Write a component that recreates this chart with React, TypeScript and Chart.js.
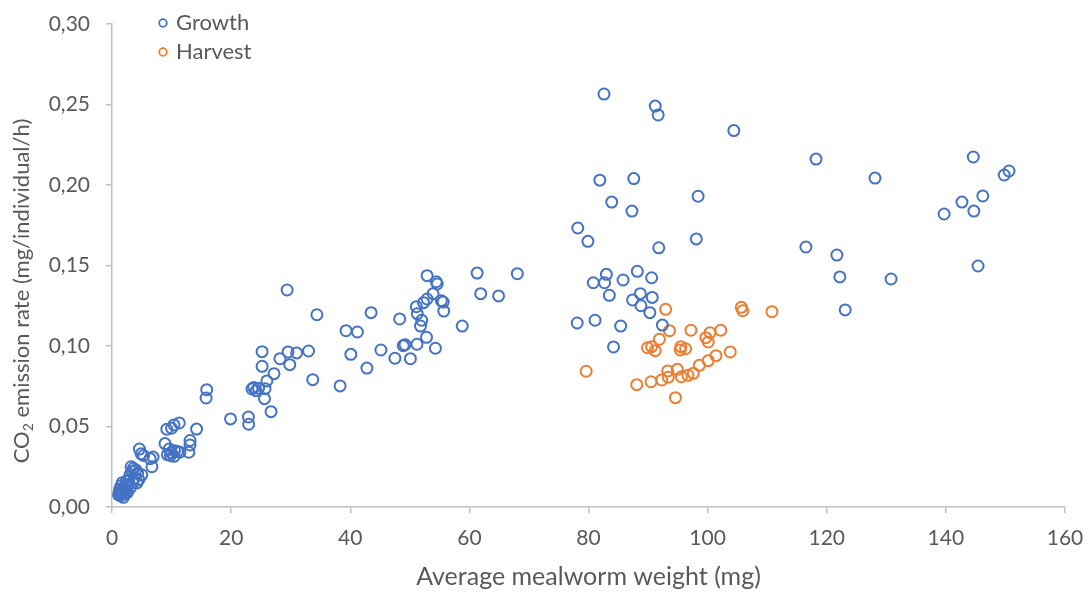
import React, { useEffect, useRef } from 'react';
import { Chart, registerables } from 'chart.js';

Chart.register(...registerables);

const seriesNames = ['Growth', 'Harvest'];
const seriesColors = ['#4472C4', '#ED7D31'];

const xTitle = 'Average mealworm weight (mg)';
const yTitleMain = 'CO';
const yTitleSub = '2';
const yTitleRest = ' emission rate (mg/individual/h)';

const growthX = [
  1.1, 1.2, 1.3, 1.4, 1.5, 1.6, 1.7, 1.8, 1.9, 2.0, 2.2, 2.3, 2.4, 2.5, 2.6, 2.7, 2.8, 3.0, 3.1, 3.2,
  3.4, 3.5, 3.6, 3.8, 4.0, 4.2, 4.3, 4.5, 4.6, 4.9, 5.0, 5.3, 6.4, 6.7, 6.9,
  8.9, 9.2, 9.3, 9.6, 9.8, 10.0, 10.0, 10.4, 10.4, 10.5, 11.0, 11.3, 11.4, 12.9, 13.1, 13.1, 14.2,
  15.8, 15.9, 19.9, 22.9, 22.95, 23.5, 23.8, 24.2, 24.6, 25.2, 25.2, 25.6, 25.7, 26.0, 26.7, 27.2,
  28.2, 29.4, 29.55, 29.85, 31.0, 33.0, 33.7, 34.4, 38.3, 39.3, 40.1, 41.2, 42.8, 43.5, 45.15,
  47.5, 48.3, 48.9, 49.2, 50.1, 51.1, 51.2, 51.25, 51.8, 52.0, 52.3, 52.8, 52.9, 52.9, 53.9, 54.3,
  54.45, 54.6, 55.3, 55.6, 55.7, 58.8, 61.3, 61.9, 64.9, 68.05,
  78.1, 78.2, 79.9, 80.8, 81.1, 81.9, 82.6, 82.7, 83.0, 83.5, 83.9, 84.2, 85.4, 85.8, 87.3, 87.4,
  87.6, 88.2, 88.7, 88.8, 90.3, 90.6, 90.7, 91.2, 91.7, 91.8, 92.4, 98.1, 98.4, 104.4,
  116.5, 118.2, 121.7, 122.2, 123.1, 128.1, 130.8, 139.7, 142.7, 144.6, 144.7, 145.4, 146.2, 149.8, 150.6,
];

const growthY = [
  0.0075, 0.009, 0.011, 0.007, 0.013, 0.008, 0.015, 0.010, 0.006, 0.012, 0.008, 0.0105, 0.016, 0.013, 0.009, 0.014, 0.017, 0.020, 0.012, 0.025,
  0.022, 0.015, 0.024, 0.018, 0.023, 0.015, 0.021, 0.017, 0.036, 0.033, 0.020, 0.032, 0.030, 0.025, 0.031,
  0.0394, 0.0483, 0.0325, 0.036, 0.032, 0.0489, 0.0335, 0.051, 0.0315, 0.035, 0.0345, 0.0522, 0.034, 0.034, 0.0413, 0.0385, 0.0484,
  0.0677, 0.0729, 0.0547, 0.0559, 0.0514, 0.0733, 0.0743, 0.0722, 0.0738, 0.0965, 0.0874, 0.0673, 0.0735, 0.0783, 0.0592, 0.0828,
  0.0921, 0.1348, 0.0963, 0.0884, 0.0957, 0.0969, 0.0791, 0.1194, 0.0752, 0.1095, 0.0948, 0.1087, 0.0863, 0.1207, 0.0975,
  0.0924, 0.1168, 0.1002, 0.1008, 0.0921, 0.1244, 0.1011, 0.1201, 0.1124, 0.116, 0.1269, 0.1054, 0.1292, 0.1437, 0.1325, 0.0986,
  0.1399, 0.1385, 0.1281, 0.1273, 0.1217, 0.1124, 0.1453, 0.1325, 0.1311, 0.1449,
  0.1143, 0.1733, 0.165, 0.1393, 0.116, 0.203, 0.2565, 0.1393, 0.1445, 0.1315, 0.1894, 0.0994, 0.1124, 0.141, 0.1838, 0.1286,
  0.204, 0.1464, 0.1325, 0.125, 0.1207, 0.1424, 0.1302, 0.249, 0.2435, 0.161, 0.113, 0.1665, 0.193, 0.2338,
  0.1615, 0.2161, 0.1565, 0.1429, 0.1224, 0.2043, 0.1416, 0.182, 0.1894, 0.2174, 0.1838, 0.1497, 0.1932, 0.2062, 0.2087,
];

const harvestX = [
  79.6, 88.1, 89.9, 90.5, 90.6, 91.2, 91.9, 92.3, 92.95, 93.3, 93.4, 93.6, 94.6, 94.9, 95.4, 95.5,
  95.6, 96.3, 96.7, 97.2, 97.6, 98.6, 99.7, 100.1, 100.1, 100.4, 101.4, 102.2, 103.8, 105.65, 105.9, 110.8,
];

const harvestY = [
  0.0843, 0.076, 0.0989, 0.0778, 0.0996, 0.0971, 0.1042, 0.0789, 0.1228, 0.0845, 0.0806, 0.1095, 0.0679, 0.0855, 0.0975, 0.0996,
  0.0809, 0.0983, 0.0818, 0.1098, 0.083, 0.088, 0.1052, 0.1025, 0.0909, 0.1083, 0.094, 0.1098, 0.0963, 0.124, 0.1219, 0.1213,
];

const xTicks = { min: 0, max: 160, step: 20 };
const yTicks = { min: 0, max: 0.3, step: 0.05 };

const FONT = 'Lato';
const TEXT = '#595959';
const AXIS = '#BFBFBF';

const customLegend = {
  id: 'customLegend',
  afterDraw(chart: any) {
    const ctx = chart.ctx as CanvasRenderingContext2D;
    ctx.save();
    seriesNames.forEach((name, i) => {
      const cy = 23 + i * 29;
      ctx.beginPath();
      ctx.arc(163, cy, 3.8, 0, Math.PI * 2);
      ctx.lineWidth = 1.8;
      ctx.strokeStyle = seriesColors[i];
      ctx.stroke();
      ctx.fillStyle = TEXT;
      ctx.font = `22px ${FONT}`;
      ctx.textBaseline = 'middle';
      ctx.textAlign = 'left';
      ctx.fillText(name, 176, cy);
    });
    ctx.restore();
  },
};

const yTitlePlugin = {
  id: 'yTitle',
  afterDraw(chart: any) {
    const ctx = chart.ctx as CanvasRenderingContext2D;
    ctx.save();
    const main = `22px ${FONT}`;
    const sub = `14px ${FONT}`;
    ctx.font = main;
    const w1 = ctx.measureText(yTitleMain).width;
    const w3 = ctx.measureText(yTitleRest).width;
    ctx.font = sub;
    const w2 = ctx.measureText(yTitleSub).width;
    const total = w1 + w2 + w3;
    const cx = 22;
    const cy = 291;
    ctx.translate(cx, cy);
    ctx.rotate(-Math.PI / 2);
    ctx.fillStyle = TEXT;
    ctx.textBaseline = 'middle';
    ctx.textAlign = 'left';
    let x = -total / 2;
    ctx.font = main;
    ctx.fillText(yTitleMain, x, 0);
    x += w1;
    ctx.font = sub;
    ctx.fillText(yTitleSub, x, 6);
    x += w2;
    ctx.font = main;
    ctx.fillText(yTitleRest, x, 0);
    ctx.restore();
  },
};

export default function App() {
  const ref = useRef<HTMLCanvasElement>(null);
  useEffect(() => {
    document.body.style.margin = '0';
    const growth = growthX.map((x, i) => ({ x, y: growthY[i] }));
    const harvest = harvestX.map((x, i) => ({ x, y: harvestY[i] }));
    const chart = new Chart(ref.current!, {
      type: 'scatter',
      data: {
        datasets: [
          {
            label: seriesNames[0],
            data: growth,
            pointRadius: 5.5,
            pointBorderWidth: 2,
            borderColor: seriesColors[0],
            backgroundColor: 'rgba(0,0,0,0)',
          },
          {
            label: seriesNames[1],
            data: harvest,
            pointRadius: 5.5,
            pointBorderWidth: 2,
            borderColor: seriesColors[1],
            backgroundColor: 'rgba(0,0,0,0)',
          },
        ],
      },
      options: {
        responsive: false,
        animation: false,
        layout: { padding: { top: 24, right: 23, bottom: 0, left: 0 } },
        plugins: {
          legend: { display: false },
          tooltip: { enabled: false },
        },
        scales: {
          x: {
            type: 'linear',
            min: xTicks.min,
            max: xTicks.max,
            ticks: {
              stepSize: xTicks.step,
              color: TEXT,
              font: { family: FONT, size: 21 },
              padding: 13,
            },
            grid: {
              display: true,
              drawOnChartArea: false,
              drawTicks: true,
              tickLength: 6,
              color: AXIS,
              lineWidth: 1.5,
            },
            border: { display: true, color: AXIS, width: 1.5 },
            title: {
              display: true,
              text: xTitle,
              color: TEXT,
              font: { family: FONT, size: 25 },
              padding: { top: 0, bottom: 1 },
            },
            afterFit: (scale: any) => {
              scale.height = 86;
              scale.paddingLeft = 0;
              scale.paddingRight = 0;
            },
          },
          y: {
            type: 'linear',
            min: yTicks.min,
            max: yTicks.max,
            ticks: {
              stepSize: yTicks.step,
              color: TEXT,
              font: { family: FONT, size: 21 },
              padding: 16,
              callback: (v: any) => Number(v).toFixed(2).replace('.', ','),
            },
            grid: {
              display: true,
              drawOnChartArea: false,
              drawTicks: true,
              tickLength: 6,
              color: AXIS,
              lineWidth: 1.5,
            },
            border: { display: true, color: AXIS, width: 1.5 },
            title: { display: false },
            afterFit: (scale: any) => {
              scale.width = 112;
              scale.paddingTop = 0;
              scale.paddingBottom = 0;
            },
          },
        },
      },
      plugins: [customLegend, yTitlePlugin],
    });
    return () => chart.destroy();
  }, []);
  return (
    <div style={{ width: 1088, height: 593 }}>
      <canvas ref={ref} width={1088} height={593} style={{ display: 'block' }} />
    </div>
  );
}
